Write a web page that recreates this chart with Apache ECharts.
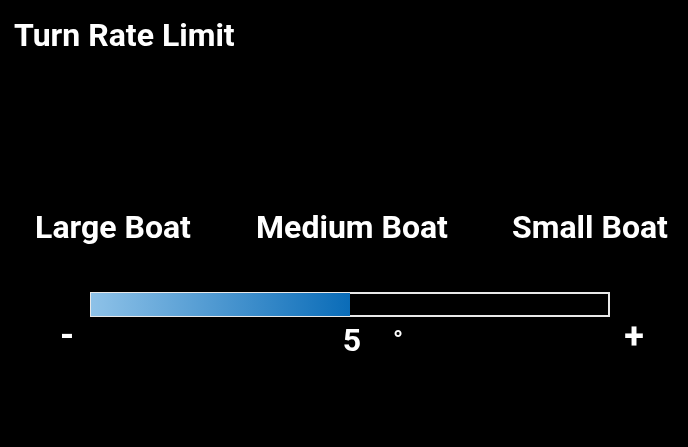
<!DOCTYPE html>
<html>
<head>
<meta charset="utf-8">
<script src="https://cdn.jsdelivr.net/npm/echarts@6/dist/echarts.min.js"></script>
<style>
  html, body { margin: 0; padding: 0; background: #000; }
  #chart { width: 688px; height: 447px; }
</style>
</head>
<body>
<div id="chart"></div>
<script>
const titleText = 'Turn Rate Limit'
const boatLabels = ['Large Boat', 'Medium Boat', 'Small Boat']
const categories = ['Turn Rate']
const turnRate = [5]
const rangeMin = 0
const rangeMax = 10
const unit = '°'

const font = 'Roboto, "Noto Sans", sans-serif'

const chart = echarts.init(document.getElementById('chart'))

chart.setOption({
  backgroundColor: '#000',
  animation: false,
  title: {
    text: titleText,
    left: 9,
    top: 17,
    textStyle: { color: '#fff', fontSize: 32, fontWeight: 'bold', fontFamily: font }
  },
  grid: { left: 91, right: 79, top: 293, height: 23 },
  xAxis: {
    type: 'value',
    min: rangeMin,
    max: rangeMax,
    show: false
  },
  yAxis: {
    type: 'category',
    data: categories,
    show: false
  },
  series: [{
    type: 'bar',
    data: turnRate,
    barWidth: '100%',
    showBackground: true,
    backgroundStyle: {
      color: '#000',
      borderColor: '#e8e8e8',
      borderWidth: 2
    },
    itemStyle: {
      color: new echarts.graphic.LinearGradient(0, 0, 1, 0, [
        { offset: 0, color: '#8ec2e8' },
        { offset: 1, color: '#0a6cb8' }
      ])
    }
  }]
})

// texts round the bar; the value text follows the end of the bar
const endX = chart.convertToPixel({ xAxisIndex: 0 }, turnRate[0])
const label = (text, x, y, size) => ({
  type: 'text',
  x: x,
  y: y,
  style: {
    text: text,
    fill: '#fff',
    font: 'bold ' + size + 'px ' + font,
    textAlign: 'center',
    textVerticalAlign: 'middle'
  }
})

chart.setOption({
  graphic: [
    label(boatLabels[0], 113, 230, 32),
    label(boatLabels[1], 352, 230, 32),
    label(boatLabels[2], 590, 230, 32),
    label('-', 67, 338, 36),
    label('+', 634, 339, 36),
    label(String(turnRate[0]), endX + 2, 343, 32),
    label(unit, endX + 48, 342, 26)
  ]
})
</script>
</body>
</html>
